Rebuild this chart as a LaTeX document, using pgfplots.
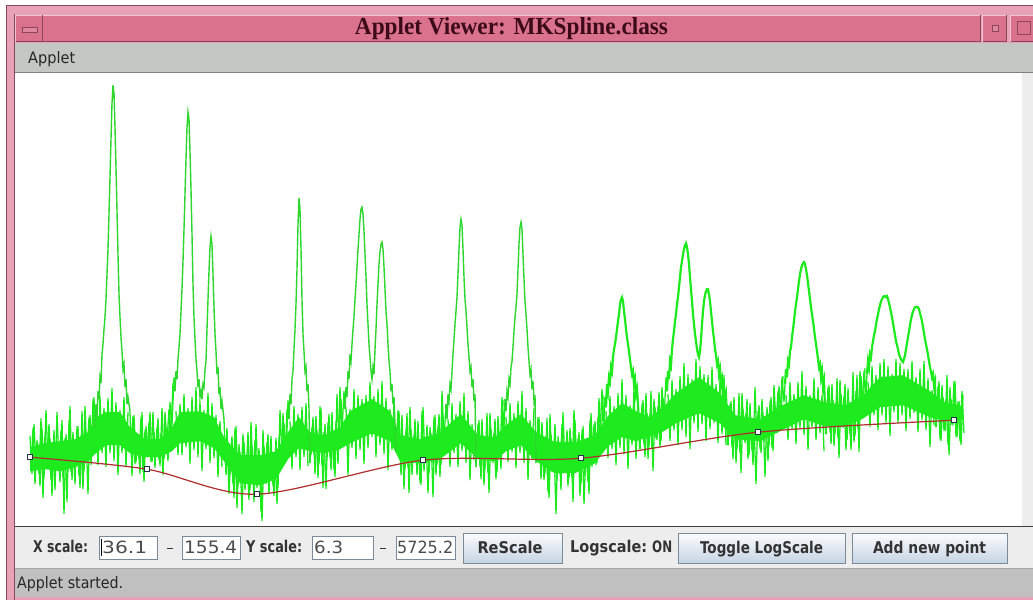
\documentclass[border=0pt]{standalone}
\usepackage{graphicx}
\usepackage{fontspec}
\setmainfont{DejaVu Sans}
\newfontfamily\titlefont{Liberation Serif}
\usepackage{pgfplots}
\pgfplotsset{compat=1.18}

\definecolor{specgreen}{RGB}{30,235,30}
\definecolor{peakgreen}{RGB}{45,215,45}
\definecolor{splinered}{RGB}{175,45,45}
\definecolor{markdark}{RGB}{40,50,70}
\definecolor{framepink}{RGB}{232,162,182}
\definecolor{framedark}{RGB}{140,70,90}
\definecolor{titlepink}{RGB}{218,113,141}
\definecolor{titletext}{RGB}{60,10,25}
\definecolor{menugray}{RGB}{196,199,196}
\definecolor{panelgray}{RGB}{237,237,237}
\definecolor{statusgray}{RGB}{192,192,192}
\definecolor{fieldborder}{RGB}{122,138,153}
\definecolor{btntop}{RGB}{251,252,254}
\definecolor{btnbot}{RGB}{198,212,228}
\definecolor{uitext}{RGB}{51,51,51}

\newcommand{\ui}[3]{\resizebox{#1pt}{#2pt}{#3}}
\pgfplotsset{noise/.style={specgreen, line width=1.3pt, line join=bevel}}

\begin{document}
\begin{tikzpicture}
\useasboundingbox (0pt,0pt) rectangle (1033pt,600pt);
\begin{scope}[x=1pt,y=1pt]
\fill[white] (0,0) rectangle (1033,600);
% window frame
\fill[framepink] (6,0) rectangle (1033,595);
\draw[framedark, line width=0.8] (6.4,0) -- (6.4,594.6) -- (1033,594.6);
\draw[framedark, line width=0.8] (14.5,0) -- (14.5,586);
% title bar
\fill[titlepink] (15,558) rectangle (980,585);
\draw[framedark, line width=1] (15,558) -- (980,558);
\draw[white!60!titlepink, line width=1] (43,584.5) -- (980,584.5);
\draw[framedark, line width=0.8] (980.5,558) -- (980.5,585);
% left button
\draw[white!60!titlepink, line width=1] (15.5,558) -- (15.5,584.5) -- (43,584.5);
\draw[framedark, line width=1] (15.5,558.5) -- (42.5,558.5) -- (42.5,585);
\fill[white!15!titlepink, draw=framedark, line width=0.6] (22,568) rectangle (37,573);
% right buttons
\fill[titlepink] (982,558) rectangle (1007,585);
\draw[white!60!titlepink, line width=0.8] (982.5,558) -- (982.5,584.6) -- (1007,584.6);
\draw[framedark, line width=0.8] (982.5,558.4) -- (1006.6,558.4) -- (1006.6,585);
\fill[white!15!titlepink, draw=framedark, line width=0.6] (992,569) rectangle (998,575);
\fill[titlepink] (1010,558) rectangle (1033,585);
\draw[white!60!titlepink, line width=0.8] (1010.5,558) -- (1010.5,584.6) -- (1033,584.6);
\draw[framedark, line width=0.8] (1010.5,558.4) -- (1033,558.4);
\draw[framedark, line width=0.8] (1017,566) rectangle (1030,579);
% title
\node[anchor=base, inner sep=0, text=titletext, font=\titlefont\bfseries] at (511.5,565) {\ui{313}{17}{Applet Viewer: MKSpline.class}};
% menu bar
\fill[menugray] (15,527.5) rectangle (1033,557);
\draw[black!50, line width=1] (15,527.5) -- (1033,527.5);
\node[anchor=base west, inner sep=0, text=black!85] at (28,536) {\ui{47}{12}{Applet}};
% plot panel
\fill[white] (15,74) rectangle (1022,526.8);
\fill[panelgray] (1022,74) rectangle (1033,526.8);
% control panel
\fill[panelgray] (15,32) rectangle (1033,73);
\draw[black!75, line width=1.2] (15,73.6) -- (1033,73.6);
% status bar
\fill[statusgray] (15,3) rectangle (1033,31);
\draw[black!35, line width=0.8] (15,31.4) -- (1033,31.4);
\node[anchor=base west, inner sep=0, text=black!85] at (17,12) {\ui{106}{12}{Applet started.}};
% labels
\node[anchor=base west, inner sep=0, text=uitext, font=\bfseries] at (33,48) {\ui{55}{12.3}{X scale:}};
\node[anchor=base west, inner sep=0, text=uitext, font=\bfseries] at (246,48) {\ui{56}{12.3}{Y scale:}};
\node[anchor=base west, inner sep=0, text=uitext, font=\bfseries] at (570,48) {\ui{77}{12.3}{Logscale:}};
\node[anchor=base west, inner sep=0, text=uitext, font=\bfseries] at (652,48) {\ui{20}{11.7}{ON}};
\draw[uitext, line width=1.2] (167,51.5) -- (172.5,51.5);
\draw[uitext, line width=1.2] (380,51.5) -- (385.5,51.5);
% fields
\fill[white, draw=fieldborder, line width=0.8] (99,41) rectangle (157,64);
\fill[white, draw=fieldborder, line width=0.8] (182,41) rectangle (240,64);
\fill[white, draw=fieldborder, line width=0.8] (312,41) rectangle (373,64);
\fill[white, draw=fieldborder, line width=0.8] (396,41) rectangle (455,64);
\node[anchor=base west, inner sep=0, text=black!70] at (102,47) {\ui{45}{12.5}{36.1}};
\draw[black, line width=0.8] (101,44) -- (101,61);
\node[anchor=base west, inner sep=0, text=black!70] at (184,47) {\ui{53}{12.5}{155.4}};
\node[anchor=base west, inner sep=0, text=black!70] at (314,47) {\ui{29}{12.5}{6.3}};
\node[anchor=base west, inner sep=0, text=black!70] at (397,47) {\ui{56}{12.5}{5725.2}};
% buttons
\shade[top color=btntop, bottom color=btnbot] (463,37) rectangle (562,67);
\draw[fieldborder, line width=0.8] (463,37) rectangle (562,67);
\node[anchor=base, inner sep=0, text=uitext, font=\bfseries] at (510,47) {\ui{65}{12.3}{ReScale}};
\shade[top color=btntop, bottom color=btnbot] (678,37) rectangle (845,67);
\draw[fieldborder, line width=0.8] (678,37) rectangle (845,67);
\node[anchor=base, inner sep=0, text=uitext, font=\bfseries] at (761.5,47) {\ui{123}{12.3}{Toggle LogScale}};
\shade[top color=btntop, bottom color=btnbot] (852,37) rectangle (1007,67);
\draw[fieldborder, line width=0.8] (852,37) rectangle (1007,67);
\node[anchor=base, inner sep=0, text=uitext, font=\bfseries] at (929.5,47) {\ui{113}{12.3}{Add new point}};
\end{scope}

\begin{axis}[at={(518.5pt,300.4pt)}, anchor=center, scale only axis,
  width=1007pt, height=452.8pt, xmin=15, xmax=1022, ymin=74, ymax=526.8,
  y dir=reverse, axis lines=none, clip=true]
% dense core of the noise band
\addplot[draw=none, fill=specgreen] coordinates {
(30,448)(45,444)(60,442)(75,440)(88,433)(96,418)(106,413)(120,413)(130,428)(145,440)(160,440)(172,428)(180,413)(200,412)(214,418)(224,438)(240,456)(260,456)(276,452)(288,433)(299,418)(310,433)(325,436)(340,428)(350,412)(372,400)(390,412)(400,436)(420,440)(440,433)(461,415)(478,436)(495,438)(506,426)(521,415)(536,433)(555,443)(575,443)(595,436)(608,417)(622,404)(636,412)(650,418)(664,407)(676,394)(699,378)(720,394)(735,416)(760,420)(780,407)(804,396)(825,403)(845,406)(862,397)(880,378)(903,376)(930,392)(945,403)(963,407)
(963,420)(945,422)(930,418)(903,406)(880,408)(862,420)(845,427)(825,427)(804,420)(780,432)(760,442)(735,440)(720,424)(699,414)(676,424)(664,432)(650,437)(636,442)(622,438)(608,447)(595,464)(575,474)(555,474)(536,462)(521,446)(506,452)(495,462)(478,460)(461,444)(440,460)(420,464)(400,462)(390,442)(372,434)(350,444)(340,450)(325,454)(310,452)(299,449)(288,460)(276,480)(260,486)(240,484)(224,462)(214,449)(200,442)(180,444)(172,452)(160,458)(145,458)(130,454)(120,446)(106,446)(96,454)(88,462)(75,468)(60,472)(45,470)(30,472)
} -- cycle;
% noise segments, first pass (even channels)
\addplot[noise] coordinates {(30,437)(32,475)(34,425)(36,467)(38,445)(40,487)(42,429)(44,479)(46,411)(48,463)(50,439)(52,497)(54,431)(56,471)(58,449)(60,483)(62,421)(64,515)(66,435)(68,473)(70,407)(72,481)(74,441)(76,465)(78,427)(80,489)(82,412)(84,472)(86,433)(88,495)(90,416)(92,452)(94,398)(95,430)};
\addplot[noise] coordinates {(130,412)(132,477)(134,416)(136,463)(138,441)(140,475)(142,413)(144,483)(146,427)(148,458)(150,413)(152,463)(154,433)(156,453)(158,419)(160,467)(162,409)(164,460)(166,428)(168,462)(170,403)(172,426)(174,378)(175,392)};
\addplot[noise] coordinates {(224,420)(226,476)(228,444)(230,475)(232,437)(234,499)(236,427)(238,487)(240,453)(242,515)(244,443)(246,479)(248,433)(250,491)(252,447)(254,503)(256,425)(258,483)(260,457)(262,522)(264,447)(266,485)(268,435)(270,477)(272,455)(274,497)(276,439)(278,489)(280,411)(282,456)(284,424)(286,462)(288,401)(289,420)};
\addplot[noise] coordinates {(310,464)(312,428)(314,455)(316,417)(318,479)(320,407)(322,467)(324,433)(326,490)(328,423)(330,459)(332,413)(334,471)(336,422)(338,465)(340,388)(342,432)(344,392)(345,410)};
\addplot[noise] coordinates {(396,453)(398,411)(400,458)(402,416)(404,490)(406,430)(408,468)(410,408)(412,476)(414,436)(416,460)(418,422)(420,484)(422,412)(424,472)(426,438)(428,494)(430,428)(432,464)(434,418)(436,476)(438,427)(440,478)(442,392)(444,443)(446,405)};
\addplot[noise] coordinates {(476,468)(478,425)(480,468)(482,420)(484,486)(486,438)(488,474)(490,414)(492,462)(494,434)(496,480)(498,417)(500,460)(502,398)(504,434)(505,400)};
\addplot[noise] coordinates {(536,464)(538,418)(540,462)(542,423)(544,481)(546,437)(548,493)(550,415)(552,473)(554,447)(556,515)(558,437)(560,475)(562,425)(564,467)(566,445)(568,487)(570,429)(572,479)(574,411)(576,463)(578,439)(580,497)(582,431)(584,505)(586,449)(588,483)(590,421)(592,468)(594,425)(596,466)(598,418)(600,435)(602,390)(604,424)(605,398)};
\addplot[noise] coordinates {(640,450)(642,405)(644,446)(646,394)(648,460)(650,414)(652,450)(654,400)(656,440)(658,407)(660,448)(662,388)(664,421)(666,378)(667,392)};
\addplot[noise] coordinates {(728,446)(730,405)(732,448)(734,398)(736,464)(738,418)(740,454)(742,394)(744,440)(746,414)(748,460)(750,404)(752,452)(754,422)(756,485)(758,412)(760,450)(762,400)(764,442)(766,420)(768,462)(770,402)(772,449)(774,386)(776,425)(778,392)(780,419)(782,378)(784,403)(785,385)};
\addplot[noise] coordinates {(826,435)(828,388)(830,433)(832,385)(834,447)(836,403)(838,439)(840,381)(842,425)(844,397)(846,451)(848,389)(850,435)(852,405)(854,443)(856,392)(858,430)(860,372)(862,408)(864,372)(866,394)(867,375)};
\addplot[noise] coordinates {(936,428)(938,387)(940,440)(942,386)(944,432)(946,400)(948,446)(950,388)(952,426)(954,382)(956,438)(958,402)(960,442)(962,392)(964,434)};
% noise segments, second pass (odd channels)
\addplot[noise] coordinates {(31,471)(33,429)(35,485)(37,441)(39,475)(41,419)(43,499)(45,435)(47,469)(49,425)(51,481)(53,445)(55,491)(57,413)(59,467)(61,431)(63,479)(65,439)(67,503)(69,421)(71,473)(73,433)(75,485)(77,427)(79,477)(81,443)(83,490)(85,407)(87,459)(89,418)(91,466)(93,400)};
\addplot[noise] coordinates {(131,442)(133,417)(135,465)(137,436)(139,459)(141,418)(143,473)(145,431)(147,455)(149,423)(151,463)(153,413)(155,469)(157,428)(159,461)(161,434)(163,476)(165,413)(167,443)(169,410)(171,435)(173,384)};
\addplot[noise] coordinates {(225,461)(227,429)(229,495)(231,451)(233,485)(235,429)(237,509)(239,445)(241,479)(243,435)(245,491)(247,455)(249,501)(251,423)(253,477)(255,441)(257,489)(259,449)(261,513)(263,431)(265,483)(267,443)(269,495)(271,437)(273,487)(275,453)(277,505)(279,438)(281,466)(283,414)(285,464)(287,410)};
\addplot[noise] coordinates {(311,456)(313,418)(315,475)(317,431)(319,465)(321,409)(323,489)(325,425)(327,459)(329,415)(331,471)(333,435)(335,478)(337,395)(339,444)(341,400)(343,440)};
\addplot[noise] coordinates {(397,446)(399,412)(401,476)(403,436)(405,470)(407,414)(409,494)(411,430)(413,464)(415,420)(417,476)(419,440)(421,486)(423,408)(425,462)(427,426)(429,474)(431,434)(433,498)(435,416)(437,466)(439,415)(441,466)(443,416)(445,442)};
\addplot[noise] coordinates {(477,456)(479,421)(481,480)(483,436)(485,470)(487,414)(489,494)(491,430)(493,464)(495,420)(497,473)(499,432)(501,470)(503,401)};
\addplot[noise] coordinates {(537,451)(539,418)(541,480)(543,441)(545,475)(547,419)(549,499)(551,435)(553,469)(555,425)(557,481)(559,445)(561,491)(563,413)(565,467)(567,431)(569,479)(571,439)(573,503)(575,421)(577,473)(579,433)(581,485)(583,427)(585,477)(587,443)(589,495)(591,414)(593,461)(595,422)(597,464)(599,399)(601,452)(603,396)};
\addplot[noise] coordinates {(641,439)(643,401)(645,458)(647,414)(649,448)(651,392)(653,472)(655,408)(657,441)(659,393)(661,442)(663,399)(665,420)};
\addplot[noise] coordinates {(729,438)(731,402)(733,460)(735,416)(737,450)(739,394)(741,474)(743,410)(745,444)(747,400)(749,456)(751,420)(753,466)(755,388)(757,442)(759,406)(761,454)(763,414)(765,478)(767,408)(769,447)(771,398)(773,452)(775,406)(777,434)(779,387)(781,416)(783,377)};
\addplot[noise] coordinates {(827,424)(829,386)(831,445)(833,401)(835,435)(837,379)(839,459)(841,395)(843,429)(845,385)(847,441)(849,405)(851,451)(853,373)(855,437)(857,376)(859,453)(861,377)(863,411)(865,369)};
\addplot[noise] coordinates {(937,419)(939,382)(941,442)(943,398)(945,432)(947,376)(949,456)(951,400)(953,426)(955,382)(957,438)(959,402)(961,446)(963,396)};
% noise under the peak bases
\addplot[noise] coordinates {(96,410)(98,466)(100,397)(102,454)(104,409)(106,468)(108,399)(110,454)(112,389)(114,462)(116,403)(118,476)(120,411)(122,454)(124,398)(126,468)(128,413)};
\addplot[noise] coordinates {(176,412)(178,456)(180,405)(182,456)(184,395)(186,448)(188,409)(190,465)(192,398)(194,451)(196,388)(198,458)(200,402)(202,472)(204,411)(206,450)(208,394)(210,464)(212,404)(214,459)(216,416)(218,478)(220,422)(222,468)};
\addplot[noise] coordinates {(290,422)(292,470)(294,407)(296,458)(298,415)(300,471)(302,408)(304,458)(306,404)(308,467)};
\addplot[noise] coordinates {(346,408)(348,476)(350,410)(352,449)(354,390)(356,460)(358,396)(360,451)(362,400)(364,465)(366,396)(368,449)(370,383)(372,438)(374,397)(376,458)(378,390)(380,446)(382,382)(384,455)(386,399)(388,471)(390,410)(392,451)(394,404)};
\addplot[noise] coordinates {(448,420)(450,468)(452,404)(454,454)(456,415)(458,468)(460,402)(462,452)(464,394)(466,464)(468,412)(470,481)(472,425)(474,461)};
\addplot[noise] coordinates {(506,418)(508,463)(510,404)(512,453)(514,414)(516,469)(518,402)(520,454)(522,392)(524,464)(526,409)(528,481)(530,421)(532,461)(534,409)};
\addplot[noise] coordinates {(606,412)(608,459)(610,397)(612,450)(614,407)(616,466)(618,394)(620,449)(622,380)(624,455)(626,396)(628,470)(630,406)(632,446)(634,390)(636,460)(638,401)};
\addplot[noise] coordinates {(668,395)(670,442)(672,381)(674,431)(676,390)(678,446)(680,377)(682,431)(684,364)(686,438)(688,375)(690,450)(692,380)(694,424)(696,360)(698,433)(700,367)(702,425)(704,375)(706,442)(708,376)(710,430)(712,368)(714,424)(716,385)(718,444)(720,380)(722,435)(724,376)(726,446)};
\addplot[noise] coordinates {(786,396)(788,441)(790,383)(792,430)(794,395)(796,445)(798,383)(800,429)(802,372)(804,436)(806,387)(808,451)(810,396)(812,428)(814,379)(816,441)(818,388)(820,434)(822,396)(824,452)};
\addplot[noise] coordinates {(868,383)(870,428)(872,367)(874,416)(876,376)(878,431)(880,364)(882,416)(884,360)(886,424)(888,367)(890,437)(892,375)(894,413)(896,360)(898,424)(900,364)(902,416)(904,370)(906,432)(908,370)(910,420)(912,362)(914,414)(916,378)(918,433)(920,370)(922,421)(924,362)(926,431)(928,379)(930,448)(932,391)(934,426)};
% peaks
\addplot[peakgreen, line width=1.4pt] coordinates {(95,430)(96,405)(97,418)(98,392)(99,400)(100,378)(101,384)(102,355)(103,345)(104,330)(105,318)(106,300)(107,275)(108,250)(109,215)(110,178)(111,140)(112,104)(113,86)(114,94)(115,128)(116,168)(117,212)(118,255)(119,295)(120,318)(121,338)(122,352)(123,370)(124,365)(125,388)(126,380)(127,405)(128,398)(130,412)};
\addplot[peakgreen, line width=1.4pt] coordinates {(175,392)(176,372)(177,380)(178,360)(179,348)(180,335)(181,312)(182,290)(183,262)(184,230)(185,195)(186,160)(187,128)(188,113)(189,120)(190,152)(191,190)(192,235)(193,285)(194,318)(195,340)(196,360)(197,372)(198,388)(199,380)(200,398)(201,392)(202,400)(203,385)(204,388)(205,370)(206,362)(207,330)(208,300)(209,272)(210,248)(211,237)(212,245)(213,275)(214,308)(215,335)(216,352)(217,375)(218,368)(219,395)(220,388)(221,410)(222,402)(224,420)};
\addplot[peakgreen, line width=1.4pt] coordinates {(289,420)(290,395)(291,405)(292,380)(293,372)(294,350)(295,330)(296,305)(297,270)(298,225)(299,199)(300,210)(301,250)(302,300)(303,335)(304,352)(305,372)(306,368)(307,392)(308,385)(309,410)(310,464)};
\addplot[peakgreen, line width=1.4pt] coordinates {(345,410)(346,388)(347,398)(348,372)(349,380)(350,355)(351,362)(352,345)(353,330)(354,318)(355,300)(356,285)(357,268)(358,250)(359,235)(360,220)(361,210)(362,208)(363,215)(364,232)(365,255)(366,278)(367,305)(368,325)(369,345)(370,358)(371,372)(372,380)(373,368)(374,375)(375,350)(376,330)(377,305)(378,285)(379,265)(380,252)(381,245)(382,243)(383,250)(384,268)(385,290)(386,312)(387,325)(388,345)(389,362)(390,372)(391,392)(392,385)(393,405)(394,398)(396,453)};
\addplot[peakgreen, line width=1.4pt] coordinates {(446,405)(447,420)(448,395)(449,402)(450,385)(451,390)(452,372)(453,355)(454,340)(455,325)(456,312)(457,298)(458,275)(459,250)(460,228)(461,220)(462,226)(463,250)(464,278)(465,300)(466,312)(467,328)(468,345)(469,358)(470,372)(471,368)(472,388)(473,380)(474,402)(475,395)(476,468)};
\addplot[peakgreen, line width=1.4pt] coordinates {(505,400)(506,412)(507,392)(508,398)(509,380)(510,385)(511,368)(512,362)(513,348)(514,332)(515,318)(516,308)(517,295)(518,270)(519,245)(520,228)(521,223)(522,230)(523,255)(524,280)(525,302)(526,315)(527,330)(528,348)(529,362)(530,375)(531,370)(532,390)(533,382)(534,402)(535,396)(536,464)};
\addplot[specgreen, line width=2.2pt] coordinates {(605,398)(606,408)(607,385)(608,392)(609,378)(610,382)(611,368)(612,372)(613,358)(614,350)(615,345)(616,338)(617,330)(618,322)(619,315)(620,305)(621,300)(622,298)(623,302)(624,312)(625,320)(626,330)(627,338)(628,345)(629,352)(630,360)(631,368)(632,375)(633,372)(634,385)(635,380)(636,395)(637,390)(638,405)(640,450)};
\addplot[specgreen, line width=2.2pt] coordinates {(667,392)(668,372)(669,380)(670,362)(671,366)(672,350)(673,340)(674,332)(675,322)(676,315)(677,305)(678,298)(679,288)(680,278)(681,268)(682,262)(683,255)(684,250)(685,246)(686,244)(687,248)(688,255)(689,265)(690,278)(691,290)(692,302)(693,315)(694,325)(695,335)(696,342)(697,350)(698,355)(699,358)(700,352)(701,340)(702,325)(703,312)(704,302)(705,296)(706,292)(707,290)(708,290)(709,295)(710,302)(711,312)(712,322)(713,332)(714,340)(715,350)(716,356)(717,365)(718,362)(719,375)(720,370)(721,385)(722,380)(723,395)(724,388)(725,402)(726,396)(728,446)};
\addplot[specgreen, line width=2.2pt] coordinates {(785,385)(786,370)(787,378)(788,362)(789,365)(790,352)(791,348)(792,338)(793,330)(794,322)(795,312)(796,305)(797,298)(798,290)(799,282)(800,275)(801,270)(802,266)(803,264)(804,263)(805,265)(806,270)(807,276)(808,284)(809,292)(810,300)(811,308)(812,315)(813,322)(814,330)(815,338)(816,345)(817,352)(818,360)(819,368)(820,365)(821,378)(822,372)(823,388)(824,382)(826,435)};
\addplot[specgreen, line width=2.2pt] coordinates {(867,375)(868,362)(869,368)(870,355)(871,358)(872,348)(873,342)(874,336)(875,332)(876,325)(877,320)(878,315)(879,310)(880,306)(881,302)(882,300)(883,298)(884,297)(885,297)(886,298)(887,297)(888,300)(889,304)(890,308)(891,313)(892,318)(893,324)(894,330)(895,336)(896,342)(897,346)(898,350)(899,355)(900,358)(901,360)(902,362)(903,363)(904,360)(905,356)(906,350)(907,344)(908,338)(909,332)(910,326)(911,320)(912,316)(913,312)(914,310)(915,308)(916,308)(917,308)(918,308)(919,310)(920,314)(921,318)(922,322)(923,328)(924,334)(925,340)(926,345)(927,350)(928,356)(929,362)(930,368)(931,372)(932,378)(933,375)(934,386)(935,382)(936,428)};
% background spline with its control points
\addplot[splinered, line width=1.2pt, smooth, mark=square*, mark size=2.6pt,
  mark options={fill=white, draw=markdark, line width=0.7pt, solid}]
  coordinates {(30,458)(147,470)(257,495)(423,461)(581,459)(758,433)(954,421)};
\end{axis}
\end{tikzpicture}
\end{document}
